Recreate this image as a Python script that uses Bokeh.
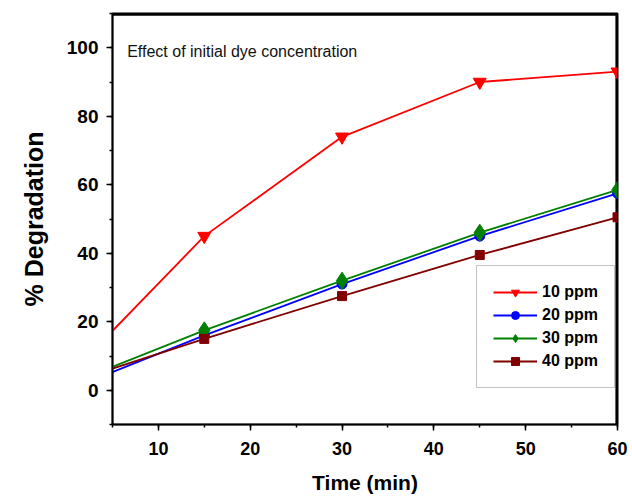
from bokeh.plotting import figure
from bokeh.models import Range1d, SingleIntervalTicker, Label, Legend
from bokeh.embed import file_html
from bokeh.resources import INLINE

time_min = [0, 15, 30, 45, 60]
ppm10 = [3.5, 45.0, 74.0, 90.0, 93.0]
ppm20 = [0.0, 16.0, 31.0, 45.0, 57.5]
ppm30 = [1.5, 17.5, 32.0, 46.0, 58.5]
ppm40 = [2.0, 15.0, 27.5, 39.5, 50.5]

series = [
    ("10 ppm", ppm10, "#FF0000", "inverted_triangle", 13),
    ("20 ppm", ppm20, "#0000FF", "circle", 10),
    ("30 ppm", ppm30, "#008000", "diamond", 17),
    ("40 ppm", ppm40, "#800000", "square", 9),
]

X_MIN, X_MAX, Y_MIN, Y_MAX = 5, 60, -10, 110
FONT = "Liberation Sans"

p = figure(width=632, height=496, output_backend="svg", toolbar_location=None,
           x_range=Range1d(X_MIN, X_MAX), y_range=Range1d(Y_MIN, Y_MAX),
           min_border_left=112, min_border_right=15, min_border_top=13, min_border_bottom=72)

p.xgrid.visible = False
p.ygrid.visible = False
p.outline_line_color = "black"
p.outline_line_width = 2
p.background_fill_color = "white"

xax = p.xaxis[0]
yax = p.yaxis[0]

# top and right frame lines drawn as one polyline just inside the frame
border_x = [X_MIN, X_MAX - 0.12, X_MAX - 0.12]
border_y = [Y_MAX - 0.4, Y_MAX - 0.4, Y_MIN]
p.line(border_x, border_y, line_color="black", line_width=2)

items = []
for name, vals, color, marker, size in series:
    l = p.line(time_min, vals, line_color=color, line_width=1.8)
    s = p.scatter(time_min, vals, marker=marker, size=size, fill_color=color, line_color=color)
    items.append((name, [l, s]))

legend = Legend(items=items, location=(364, 36))
legend.label_text_font = FONT
legend.label_text_font_style = "bold"
legend.label_text_font_size = "16px"
legend.label_text_color = "black"
legend.glyph_width = 44
legend.glyph_height = 20
legend.label_height = 20
legend.spacing = 3
legend.padding = 16
legend.margin = 0
legend.label_standoff = 5
legend.border_line_color = "#888888"
legend.border_line_width = 1
legend.background_fill_color = "white"
legend.background_fill_alpha = 1.0
p.add_layout(legend)

xax.ticker = SingleIntervalTicker(interval=10, num_minor_ticks=2)
yax.ticker = SingleIntervalTicker(interval=20, num_minor_ticks=2)

for ax in (xax, yax):
    ax.axis_line_color = "black"
    ax.axis_line_width = 1.5
    ax.major_tick_line_color = "black"
    ax.major_tick_line_width = 1.5
    ax.minor_tick_line_color = "black"
    ax.minor_tick_line_width = 1.5
    ax.major_tick_out = 6
    ax.major_tick_in = 0
    ax.minor_tick_out = 3
    ax.minor_tick_in = 0
    ax.major_label_text_font = FONT
    ax.major_label_text_font_style = "bold"
    ax.major_label_text_color = "black"
    ax.axis_label_text_font = FONT
    ax.axis_label_text_font_style = "bold"
    ax.axis_label_text_color = "black"

xax.axis_label = "Time (min)"
yax.axis_label = "% Degradation"
xax.major_label_text_font_size = "18px"
yax.major_label_text_font_size = "19px"
xax.axis_label_text_font_size = "21px"
yax.axis_label_text_font_size = "25px"
xax.major_label_standoff = 11
yax.major_label_standoff = 8
xax.axis_label_standoff = 13
yax.axis_label_standoff = 16

title = Label(x=6.6, y=98.8, text="Effect of initial dye concentration",
              text_font=FONT, text_font_size="16px", text_color="#111111",
              text_baseline="middle", text_align="left")
p.add_layout(title)

open("out.html", "w").write(file_html(p, INLINE))
